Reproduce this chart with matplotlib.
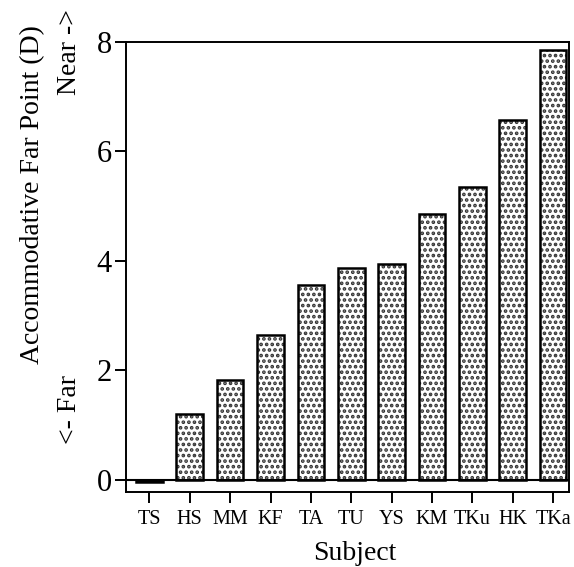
import matplotlib.pyplot as plt
import numpy as np

subjects = ['TS', 'HS', 'MM', 'KF', 'TA', 'TU', 'YS', 'KM', 'TKu', 'HK', 'TKa']
far_point = [-0.03, 1.20, 1.82, 2.65, 3.57, 3.88, 3.95, 4.85, 5.35, 6.58, 7.86]
yticks = [0, 2, 4, 6, 8]

plt.rcParams['font.family'] = ['Liberation Serif', 'DejaVu Serif']
plt.rcParams['hatch.linewidth'] = 1.8

fig = plt.figure(figsize=(5.74, 5.67), dpi=100)
ax = fig.add_axes([0.2195, 0.1317, 0.7715, 0.7943])

x = np.arange(len(subjects))
# dotted fill, then black outline on top
ax.bar(x, far_point, width=0.66, color='white', edgecolor='#333333',
       hatch='...', linewidth=0)
ax.bar(x, far_point, width=0.66, fill=False, edgecolor='black', linewidth=1.8)
ax.axhline(0, color='black', linewidth=1.5)

ax.set_xlim(-0.58, 10.39)
ax.set_ylim(-0.225, 8)
ax.set_xticks(x)
ax.set_xticklabels(subjects, fontsize=14.5)
ax.set_yticks(yticks)
ax.set_yticklabels([str(t) for t in yticks], fontsize=22)
ax.tick_params(axis='both', direction='out', length=8, width=1.4, color='black')
ax.tick_params(axis='x', pad=5)
ax.tick_params(axis='y', pad=2)
for s in ax.spines.values():
    s.set_linewidth(1.4)

fig.text(33 / 574, 1 - 195 / 567, 'Accommodative Far Point (D)', rotation=90,
         ha='center', va='center', fontsize=20)
fig.text(70 / 574, 1 - 52 / 567, 'Near ->', rotation=90,
         ha='center', va='center', fontsize=20)
fig.text(70 / 574, 1 - 410 / 567, '<- Far', rotation=90,
         ha='center', va='center', fontsize=20)
fig.text(355 / 574, 1 - 553 / 567, 'Subject', ha='center', va='center',
         fontsize=20)

fig.savefig('out.png', dpi=100)
